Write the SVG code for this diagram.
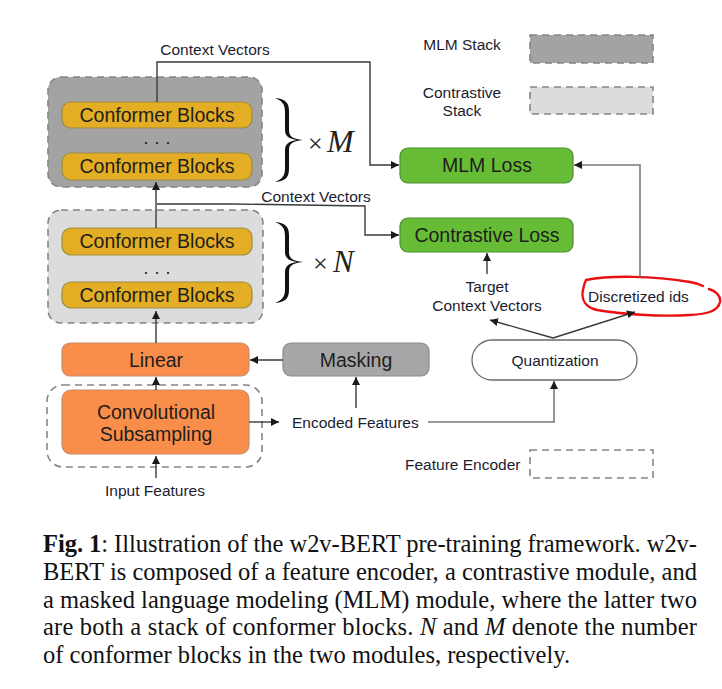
<svg xmlns="http://www.w3.org/2000/svg" width="722" height="689" viewBox="0 0 722 689">
<style>
.lbl{font-family:"Liberation Sans",Arial,sans-serif;font-size:19.5px;fill:#1e1e1e;text-anchor:middle}
.sm{font-family:"Liberation Sans",Arial,sans-serif;font-size:15.5px;fill:#1c1c30}
.mid{text-anchor:middle}
.conf{fill:#e3ad24;stroke:#a08a40;stroke-width:1.2}
.stack{stroke:#858585;stroke-width:1.6;stroke-dasharray:7 5}
.orange{fill:#f98e4a;stroke:#c98a6a;stroke-width:1.2}
.green{fill:#67bc35;stroke:#4d8f2e;stroke-width:1.2}
.gray{fill:#a6a6a6;stroke:#8a8a8a;stroke-width:1.2}
.conn{fill:none;stroke:#3a3a3a;stroke-width:1.4}
.connl{fill:none;stroke:#7a7a7a;stroke-width:1.6}
.cap{font-family:"Liberation Serif","Times New Roman",serif;font-size:24.5px;fill:#111}
.math{font-family:"Liberation Serif","Times New Roman",serif;fill:#222}
</style>
<defs>
<marker id="arr" viewBox="0 0 10 10" refX="10" refY="5" markerWidth="8" markerHeight="8" markerUnits="userSpaceOnUse" orient="auto">
<path d="M0,0 L10,5 L0,10 z" fill="#1a1a1a"/>
</marker>
</defs>
<rect width="722" height="689" fill="#ffffff"/>

<!-- MLM stack -->
<g id="mlm-stack">
<rect class="stack" x="48" y="77" width="214" height="110" rx="13" fill="#a3a3a3"/>
<rect class="conf" x="62" y="102" width="190" height="26" rx="9"/>
<text class="lbl" x="157" y="122">Conformer Blocks</text>
<text class="lbl" x="157" y="148" style="font-size:18px">· · ·</text>
<rect class="conf" x="62" y="153" width="190" height="27" rx="9"/>
<text class="lbl" x="157" y="173">Conformer Blocks</text>
</g>
<g id="brace-m">
<path d="M275,98 C287,99 289,104 289,112 L289,130 C289,136 292,139 303,140 C292,141 289,144 289,150 L289,168 C289,176 287,181 275,182 C283,179 285,175 285,168 L285,150 C285,144 289,141 297,140 C289,139 285,136 285,130 L285,112 C285,105 283,101 275,98 Z" fill="#111"/>
<text class="math" x="308" y="152" font-size="26">×</text>
<text class="math" x="327" y="152" font-size="32" font-style="italic">M</text>
</g>

<!-- Contrastive stack -->
<g id="contrastive-stack">
<rect class="stack" x="48" y="210" width="215" height="113" rx="13" fill="#dcdcdc"/>
<rect class="conf" x="62" y="228" width="190" height="27" rx="9"/>
<text class="lbl" x="157" y="248">Conformer Blocks</text>
<text class="lbl" x="157" y="278" style="font-size:18px">· · ·</text>
<rect class="conf" x="62" y="282" width="190" height="26" rx="9"/>
<text class="lbl" x="157" y="302">Conformer Blocks</text>
</g>
<g id="brace-n">
<path d="M275,222 C287,223 289,228 289,236 L289,252 C289,258 292,261 303,262 C292,263 289,266 289,272 L289,289 C289,297 287,302 275,303 C283,300 285,296 285,289 L285,272 C285,266 289,263 297,262 C289,261 285,258 285,252 L285,236 C285,229 283,225 275,222 Z" fill="#111"/>
<text class="math" x="313" y="272" font-size="26">×</text>
<text class="math" x="333" y="272" font-size="31" font-style="italic">N</text>
</g>

<!-- Linear -->
<g id="linear">
<rect class="orange" x="62" y="343" width="187" height="33" rx="8"/>
<text class="lbl" x="156" y="367">Linear</text>
</g>

<!-- Masking -->
<g id="masking">
<rect class="gray" x="283" y="343" width="146" height="33" rx="8"/>
<text class="lbl" x="356" y="367">Masking</text>
</g>

<!-- Feature encoder -->
<g id="feature-encoder">
<rect class="stack" x="47" y="385" width="215" height="82" rx="16" fill="none"/>
<rect class="orange" x="62" y="390" width="187" height="64" rx="9"/>
<text class="lbl" x="156" y="419">Convolutional</text>
<text class="lbl" x="156" y="441">Subsampling</text>
</g>

<!-- MLM Loss -->
<g id="mlm-loss">
<rect class="green" x="400" y="148" width="173" height="35" rx="8"/>
<text class="lbl" x="487" y="172">MLM Loss</text>
</g>

<!-- Contrastive Loss -->
<g id="contrastive-loss">
<rect class="green" x="400" y="218" width="173" height="34" rx="8"/>
<text class="lbl" x="487" y="242">Contrastive Loss</text>
</g>

<!-- Quantization -->
<g id="quantization">
<rect x="472" y="340" width="165" height="40" rx="20" fill="#ffffff" stroke="#6a6a6a" stroke-width="1.3"/>
<text class="sm mid" x="555" y="366">Quantization</text>
</g>

<!-- Labels -->
<g id="label-context-top"><text class="sm mid" x="215" y="55">Context Vectors</text></g>
<g id="label-context-mid"><text class="sm mid" x="316" y="202">Context Vectors</text></g>
<g id="label-target"><text class="sm mid" x="487" y="292">Target</text><text class="sm mid" x="487" y="311">Context Vectors</text></g>
<g id="label-discretized">
<text class="sm" x="588" y="302">Discretized ids</text>
<path d="M586,280 C612,275 652,276 690,282 C697,283 701,285 703,286 M709,289 C716,291 721,296 720,302 C718,311 708,314 690,315 C660,317 620,314 597,310 C585,307 581,299 583,290 C584,285 585,282 586,280" fill="none" stroke="#e81010" stroke-width="2.4" stroke-linecap="round"/>
</g>
<g id="label-encoded"><text class="sm" x="292" y="428">Encoded Features</text></g>
<g id="label-input"><text class="sm mid" x="155" y="496">Input Features</text></g>

<!-- Legend -->
<g id="legend-mlm">
<text class="sm mid" x="462" y="50">MLM Stack</text>
<rect class="stack" x="530" y="35" width="123" height="28" fill="#a3a3a3" stroke-width="1.3"/>
</g>
<g id="legend-contrastive">
<text class="sm mid" x="462" y="98">Contrastive</text>
<text class="sm mid" x="462" y="116">Stack</text>
<rect class="stack" x="530" y="87" width="123" height="27" fill="#dcdcdc" stroke-width="1.3"/>
</g>
<g id="legend-feature">
<text class="sm" x="405" y="470">Feature Encoder</text>
<rect class="stack" x="530" y="450" width="123" height="28" fill="none" stroke-width="1.3"/>
</g>

<!-- Connectors -->
<g id="connectors">
<path class="conn" d="M156,478 V456" marker-end="url(#arr)"/>
<path class="conn" d="M156,390 V377" marker-end="url(#arr)"/>
<path class="conn" d="M156,343 V311" marker-end="url(#arr)"/>
<path class="conn" d="M156,228 V182" marker-end="url(#arr)"/>
<path class="conn" d="M157,102 V62 H370 V165 H399" marker-end="url(#arr)"/>
<path class="conn" d="M157,204 H233 L365,206 V235 H399" marker-end="url(#arr)"/>
<path class="conn" d="M283,360 H250" marker-end="url(#arr)"/>
<path class="conn" d="M249,422 H279" marker-end="url(#arr)"/>
<path class="conn" d="M356,408 V377" marker-end="url(#arr)"/>
<path class="connl" d="M428,422 H554 V381" marker-end="url(#arr)"/>
<path class="conn" d="M553,338 L490,320" marker-end="url(#arr)"/>
<path class="conn" d="M553,338 L635,312" marker-end="url(#arr)"/>
<path class="conn" d="M487,274 V253" marker-end="url(#arr)"/>
<path class="connl" d="M640,277 V165 H574" marker-end="url(#arr)"/>
</g>

<!-- Caption -->
<g id="caption">
<text class="cap" x="43" y="552" textLength="654" lengthAdjust="spacing"><tspan font-weight="bold">Fig. 1</tspan>: Illustration of the w2v-BERT pre-training framework. w2v-</text>
<text class="cap" x="43" y="580" textLength="654" lengthAdjust="spacing">BERT is composed of a feature encoder, a contrastive module, and</text>
<text class="cap" x="43" y="608" textLength="654" lengthAdjust="spacing">a masked language modeling (MLM) module, where the latter two</text>
<text class="cap" x="43" y="635" textLength="654" lengthAdjust="spacing">are both a stack of conformer blocks. <tspan font-style="italic">N</tspan> and <tspan font-style="italic">M</tspan> denote the number</text>
<text class="cap" x="43" y="663">of conformer blocks in the two modules, respectively.</text>
</g>
</svg>
